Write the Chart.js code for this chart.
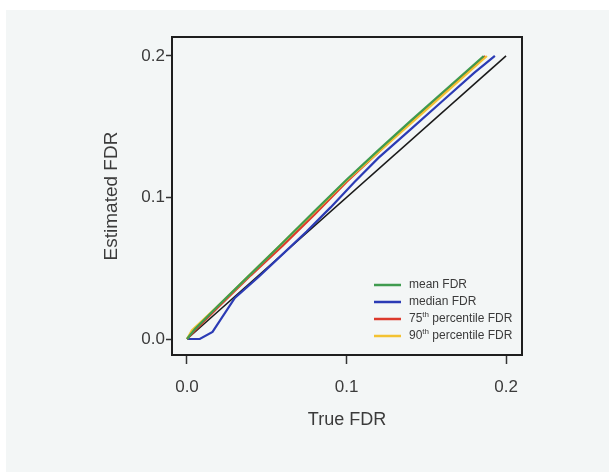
<!DOCTYPE html>
<html lang="en">
<head>
  <meta charset="UTF-8" />
  <title>Estimated vs True FDR</title>
  <script src="https://cdn.jsdelivr.net/npm/chart.js"></script>
  <style>
    html, body { margin: 0; padding: 0; background: #fff; }
    body { width: 609px; height: 472px; position: relative; overflow: hidden; }
    .panel {
      position: absolute; left: 6px; top: 10px; width: 603px; height: 462px;
      background: #f3f6f6;
    }
    #chart { position: absolute; left: 0; top: 0; }
  </style>
</head>
<body>
  <div class="panel"></div>
  <canvas id="chart" width="609" height="472"></canvas>

  <script>
    // axis ticks
    const xTicks = [0, 0.1, 0.2];
    const yTicks = [0, 0.1, 0.2];

    // y = x reference line
    const identityX = [0, 0.2];
    const identityY = [0, 0.2];

    // mean FDR
    const meanX = [0, 0.005, 0.02, 0.04, 0.06, 0.08, 0.1, 0.12, 0.14, 0.16, 0.186];
    const meanY = [0, 0.007, 0.024, 0.046, 0.068, 0.0905, 0.1125, 0.1335, 0.154, 0.174, 0.2];

    // median FDR
    const medianX = [0, 0.008, 0.016, 0.03, 0.045, 0.06, 0.075, 0.09, 0.105, 0.12, 0.14, 0.16, 0.18, 0.193];
    const medianY = [0, 0, 0.005, 0.029, 0.044, 0.06, 0.076, 0.093, 0.111, 0.128, 0.148, 0.168, 0.188, 0.2];

    // 75th percentile FDR
    const p75X = [0, 0.005, 0.02, 0.04, 0.06, 0.08, 0.1, 0.12, 0.14, 0.16, 0.187];
    const p75Y = [0, 0.006, 0.023, 0.045, 0.066, 0.088, 0.111, 0.132, 0.153, 0.173, 0.2];

    // 90th percentile FDR
    const p90X = [0, 0.003, 0.02, 0.04, 0.06, 0.08, 0.1, 0.12, 0.14, 0.16, 0.188];
    const p90Y = [0, 0.006, 0.024, 0.046, 0.068, 0.09, 0.112, 0.132, 0.152, 0.172, 0.2];

    function pts(xs, ys) { return xs.map((x, i) => ({ x: x, y: ys[i] })); }

    const FONT = '"Liberation Sans", Arial, Helvetica, sans-serif';
    const TEXT = '#3b3b3b';

    // frame around the plot area
    const framePlugin = {
      id: 'frame',
      afterDraw(chart) {
        const a = chart.chartArea, ctx = chart.ctx;
        ctx.save();
        ctx.strokeStyle = '#1e1e1e';
        ctx.lineWidth = 2;
        ctx.strokeRect(a.left, a.top, a.right - a.left, a.bottom - a.top);
        ctx.restore();
      }
    };

    // legend inside the plot, bottom right, with superscript ordinals
    const insideLegend = {
      id: 'insideLegend',
      afterDatasetsDraw(chart) {
        const a = chart.chartArea, ctx = chart.ctx;
        const items = chart.data.datasets.filter(d => d.legend);
        ctx.save();
        items.forEach((d, i) => {
          const y = a.bottom - 70 + i * 17;
          ctx.strokeStyle = d.borderColor;
          ctx.lineWidth = 2.5;
          ctx.beginPath();
          ctx.moveTo(a.right - 148, y);
          ctx.lineTo(a.right - 121, y);
          ctx.stroke();
          ctx.fillStyle = TEXT;
          ctx.textBaseline = 'middle';
          ctx.textAlign = 'left';
          let x = a.right - 113;
          const m = d.label.match(/^(\d+)(th)(.*)$/);
          ctx.font = '12px ' + FONT;
          if (m) {
            ctx.fillText(m[1], x, y);
            x += ctx.measureText(m[1]).width;
            ctx.font = '8px ' + FONT;
            ctx.fillText(m[2], x, y - 4);
            x += ctx.measureText(m[2]).width;
            ctx.font = '12px ' + FONT;
            ctx.fillText(m[3], x, y);
          } else {
            ctx.fillText(d.label, x, y);
          }
        });
        ctx.restore();
      }
    };

    new Chart(document.getElementById('chart'), {
      type: 'scatter',
      data: {
        datasets: [
          { label: 'identity', data: pts(identityX, identityY), borderColor: '#1a1a1a', borderWidth: 1.6, order: 5 },
          { label: 'mean FDR', legend: true, data: pts(meanX, meanY), borderColor: '#3f9b4f', borderWidth: 2.2, order: 1 },
          { label: 'median FDR', legend: true, data: pts(medianX, medianY), borderColor: '#2b3bb5', borderWidth: 2.2, order: 4 },
          { label: '75th percentile FDR', legend: true, data: pts(p75X, p75Y), borderColor: '#dc3a2c', borderWidth: 2.2, order: 3 },
          { label: '90th percentile FDR', legend: true, data: pts(p90X, p90Y), borderColor: '#f3c232', borderWidth: 2.2, order: 2 }
        ].map(d => Object.assign({ showLine: true, pointRadius: 0, fill: false, tension: 0 }, d))
      },
      options: {
        responsive: false,
        animation: false,
        layout: { padding: { left: 100, top: 37, right: 87, bottom: 41 } },
        plugins: { legend: { display: false }, tooltip: { enabled: false } },
        scales: {
          x: {
            type: 'linear',
            min: -0.0094,
            max: 0.21,
            afterBuildTicks: s => { s.ticks = xTicks.map(v => ({ value: v })); },
            afterFit: s => { s.height = 76; },
            ticks: { padding: 13, color: TEXT, font: { family: FONT, size: 17 }, callback: v => v.toFixed(1) },
            grid: { drawOnChartArea: false, drawTicks: true, tickLength: 9, tickColor: '#333', tickWidth: 1.5 },
            border: { display: false },
            title: { display: true, text: 'True FDR', color: TEXT, padding: 0, font: { family: FONT, size: 18 } }
          },
          y: {
            type: 'linear',
            min: -0.0113,
            max: 0.2134,
            afterBuildTicks: s => { s.ticks = yTicks.map(v => ({ value: v })); },
            afterFit: s => { s.width = 72; },
            ticks: { padding: 1, color: TEXT, font: { family: FONT, size: 17 }, callback: v => v.toFixed(1) },
            grid: { drawOnChartArea: false, drawTicks: true, tickLength: 6, tickColor: '#333', tickWidth: 1.5 },
            border: { display: false },
            title: { display: true, text: 'Estimated FDR', color: TEXT, padding: 0, font: { family: FONT, size: 19 } }
          }
        }
      },
      plugins: [framePlugin, insideLegend]
    });
  </script>
</body>
</html>
